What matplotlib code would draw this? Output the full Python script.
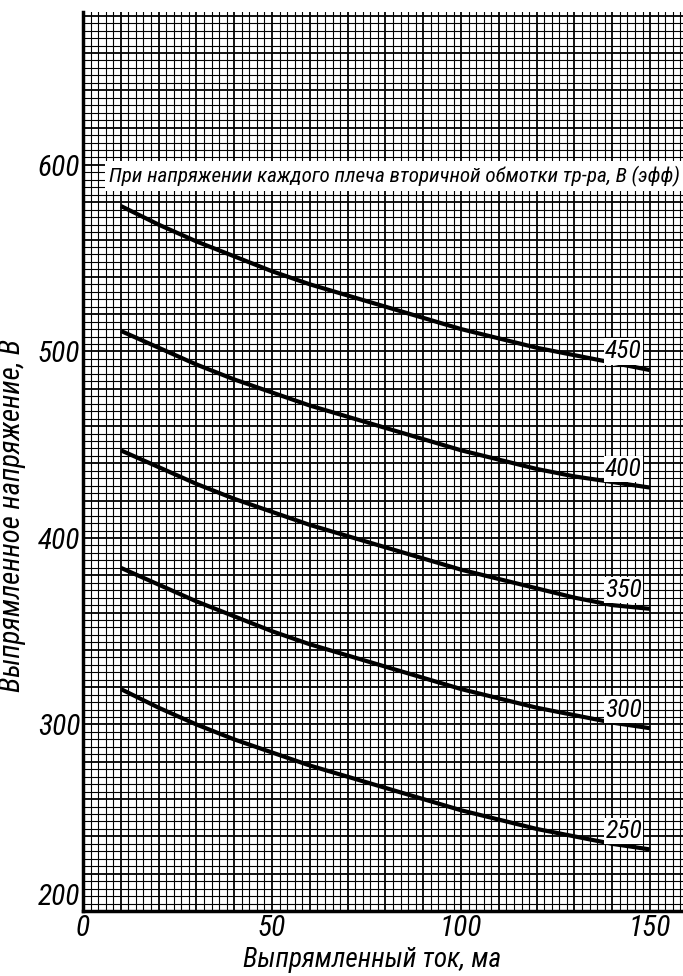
import numpy as np
import matplotlib
matplotlib.use("Agg")
import matplotlib.pyplot as plt
from matplotlib import font_manager as fm

# ---------------- data ----------------
current_ma = [10, 20, 30, 40, 50, 60, 70, 80, 90, 100, 110, 120, 130, 140, 150]
v_450 = [578, 568, 559, 551, 543, 536, 530, 524, 518, 512, 507, 502, 498, 494, 490]
v_400 = [511, 502, 493, 485, 478, 471, 465, 459, 453, 447, 442, 437, 433, 430, 427]
v_350 = [447, 438, 429, 421, 414, 407, 401, 395, 389, 383, 378, 373, 368, 364, 362]
v_300 = [384, 375, 366, 358, 350, 343, 337, 331, 325, 319, 314, 309, 305, 301, 298]
v_250 = [319, 309, 300, 292, 285, 278, 272, 266, 260, 254, 249, 244, 240, 236, 233]
series = [v_450, v_400, v_350, v_300, v_250]
curve_labels = ["450", "400", "350", "300", "250"]
x_ticks = [0, 50, 100, 150]
y_ticks = [200, 300, 400, 500, 600]
x_title = "Выпрямленный ток, ма"
y_title = "Выпрямленное напряжение, В"
note = "При напряжении каждого плеча вторичной обмотки тр-ра, В (эфф)"

# ---------------- fonts ----------------
names = {f.name for f in fm.fontManager.ttflist}
cond_dejavu = any(f.name == "DejaVu Sans" and str(f.stretch) in ("condensed", "semi-condensed")
                  for f in fm.fontManager.ttflist)
stretch = "normal"
if "Liberation Sans Narrow" in names:
    fam = ["Liberation Sans Narrow", "DejaVu Sans"]
    narrow = True
elif "Roboto Condensed" in names:
    fam = ["Roboto Condensed", "DejaVu Sans"]
    narrow = True
elif cond_dejavu:
    fam = ["DejaVu Sans"]
    stretch = "condensed"
    narrow = True
else:
    fam = ["Liberation Sans", "DejaVu Sans"]
    narrow = False
plt.rcParams["font.family"] = fam
plt.rcParams["font.stretch"] = stretch
k = 1.12 if narrow else 1.0

fig = plt.figure(figsize=(6.83, 9.76), dpi=100)
ax = fig.add_axes([83 / 683, 65 / 976, 600 / 683, 899 / 976])
ax.set_xlim(0, 158.7)
ax.set_ylim(200, 682)

# graph-paper grid
for gx in np.arange(0, 159, 2):
    heavy = (gx % 10 == 0)
    ax.axvline(gx, color="black", lw=1.3 if heavy else 0.8, zorder=1)
for gy in np.arange(200, 683, 4):
    heavy = ((gy - 200) % 20 == 0)
    ax.axhline(gy, color="black", lw=1.3 if heavy else 0.8, zorder=1)

for s in ["top", "right"]:
    ax.spines[s].set_visible(False)
for s in ["left", "bottom"]:
    ax.spines[s].set_linewidth(2.5)

# curves
for vals, lab in zip(series, curve_labels):
    ax.plot(current_ma, vals, color="black", lw=3.0, zorder=3,
            solid_capstyle="butt")
    ax.text(143, vals[-1] + 10, lab, ha="center", va="center",
            fontsize=16.5 * k, style="italic", zorder=4,
            bbox=dict(boxstyle="square,pad=0.05", fc="white", ec="none"))

ax.text(7, 594, note, ha="left", va="center", fontsize=13.6 * k, style="italic",
        zorder=4, bbox=dict(boxstyle="square,pad=0.2", fc="white", ec="none"))

ax.set_xticks(x_ticks)
ax.set_yticks(y_ticks)
ax.set_xticklabels([str(t) for t in x_ticks], fontsize=19 * k, style="italic")
ax.set_yticklabels([str(t) for t in y_ticks], fontsize=19 * k, style="italic")
ax.tick_params(length=0, pad=2)
ax.get_yticklabels()[0].set_verticalalignment("bottom")

ax.set_xlabel(x_title, fontsize=17.5 * k, style="italic")
ax.xaxis.label.set_verticalalignment("center")
ax.xaxis.set_label_coords(0.482, -0.0545)
ax.set_ylabel(y_title, fontsize=18.5 * k, style="italic")
ax.yaxis.label.set_verticalalignment("center")
ax.yaxis.set_label_coords(-0.118, 0.44)

fig.savefig("out.png", dpi=100, facecolor="white")
